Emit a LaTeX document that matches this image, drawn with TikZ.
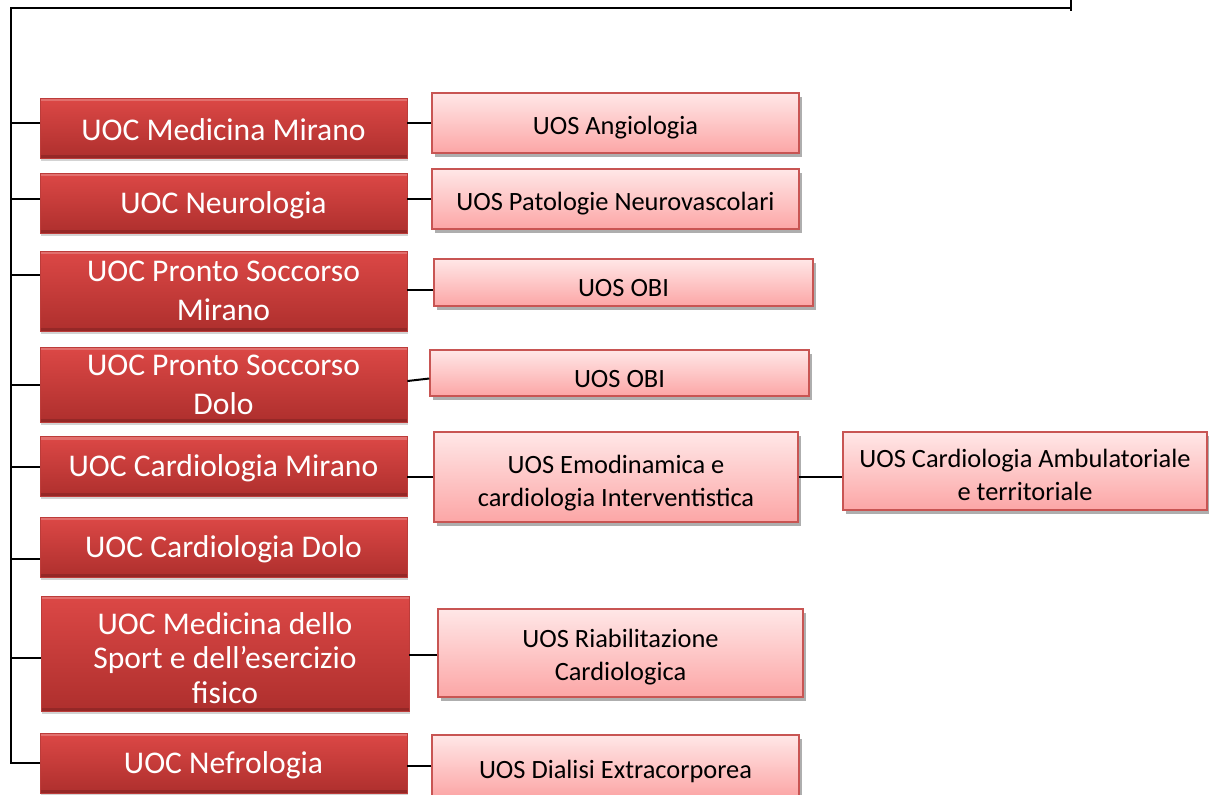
\documentclass[tikz,border=0pt]{standalone}
\usepackage{fontspec}
\setmainfont{Carlito}
\usepackage{tikz}
\usetikzlibrary{positioning,shadows,calc}
\definecolor{uocedge}{RGB}{188,60,58}
\definecolor{uoctop}{RGB}{220,72,70}
\definecolor{uocbot}{RGB}{174,47,45}
\definecolor{uosedge}{RGB}{200,85,83}
\definecolor{uostop}{RGB}{255,231,231}
\definecolor{uosbot}{RGB}{252,166,166}
% pushes the text of a box a little down
\newcommand{\lowr}[1]{\rule{0pt}{#1}}
\tikzset{
  orgbox/.style={
    inner sep=0pt, align=center,
    minimum width=183.5pt, minimum height=30pt
  },
  uoc/.style={
    orgbox, draw=uocedge, line width=0.4pt,
    top color=uoctop, bottom color=uocbot, text=white,
    font=\fontsize{15.8}{19.5}\selectfont,
    path picture={
      \draw[white, opacity=0.22, line width=1.6pt]
        ([yshift=-0.8pt]path picture bounding box.north west) --
        ([yshift=-0.8pt]path picture bounding box.north east);
      \draw[black, opacity=0.15, line width=1.6pt]
        ([yshift=0.8pt]path picture bounding box.south west) --
        ([yshift=0.8pt]path picture bounding box.south east);
    },
    drop shadow={shadow xshift=0.6pt, shadow yshift=-1.4pt, opacity=0.35}
  },
  uos/.style={
    orgbox, draw=uosedge, line width=0.7pt,
    top color=uostop, bottom color=uosbot, text=black,
    font=\fontsize{13.2}{16.5}\selectfont,
    drop shadow={shadow xshift=1.5pt, shadow yshift=-2pt, opacity=0.45, fill=black!70}
  },
  link/.style={draw=black, line width=1pt}
}

\begin{document}
\begin{tikzpicture}[x=0.5pt, y=-0.5pt]
  \useasboundingbox (0,0) rectangle (1209,794);
  % UOC column
  \node[uoc] (mm)  at (223.5,128)   {\lowr{13pt}UOC Medicina Mirano};
  \node[uoc] (neu) at (223.5,203)   {\lowr{13pt}UOC Neurologia};
  \node[uoc, minimum height=40pt] (psm) at (223.5,291) {UOC Pronto Soccorso\\Mirano};
  \node[uoc, minimum height=37.5pt] (psd) at (223.5,384.5) {UOC Pronto Soccorso\\Dolo};
  \node[uoc] (cm)  at (223.5,466.5) {\lowr{13pt}UOC Cardiologia Mirano};
  \node[uoc] (cd)  at (223.5,547)   {\lowr{13pt}UOC Cardiologia Dolo};
  \node[uoc, minimum width=184pt, minimum height=57.5pt, font=\fontsize{15.8}{17.2}\selectfont]
    (sp) at (225,653.5) {\lowr{15.5pt}UOC Medicina dello\\Sport e dell’esercizio\\fisico};
  \node[uoc] (nef) at (223.5,763)   {\lowr{13pt}UOC Nefrologia};
  % UOS column
  \node[uos] (ang)  at (615.5,123) {\lowr{14.2pt}UOS Angiologia};
  \node[uos] (pat)  at (615.5,199) {\lowr{14.2pt}UOS Patologie Neurovascolari};
  \node[uos, minimum width=189.5pt, minimum height=23.5pt] (obi1) at (623.5,282.5) {\lowr{14.2pt}UOS OBI};
  \node[uos, minimum width=189.5pt, minimum height=23pt] (obi2) at (619.5,373) {\lowr{14.2pt}UOS OBI};
  \node[uos, minimum width=182pt, minimum height=45pt] (emo) at (616,477)
    {\lowr{15pt}UOS Emodinamica e\\cardiologia Interventistica};
  \node[uos, minimum width=182pt, minimum height=39pt] (amb) at (1025,471)
    {\lowr{13.5pt}UOS Cardiologia Ambulatoriale\\e territoriale};
  \node[uos, minimum width=182.5pt, minimum height=44pt] (riab) at (620.5,653)
    {\lowr{12.8pt}UOS Riabilitazione\\Cardiologica};
  \node[uos, minimum height=31pt] (dia) at (615.5,766) {\lowr{14.2pt}UOS Dialisi Extracorporea};
  % spine
  \coordinate (corner) at (11,8);
  \coordinate (tick) at (1071,0);
  \draw[link] (tick) -- ++(0,11);
  \draw[link] (corner -| tick) -- (corner) -- (corner |- nef.west) -- (nef.west);
  \foreach \n/\dy in {mm/2.5, neu/2, psm/8, psd/0, cm/0, cd/-6, sp/-2}
    \draw[link] ([yshift=\dy pt]\n.west) coordinate (b) -- (b -| corner);
  % UOC to UOS
  \foreach \a/\b/\dy in {mm/ang/0, neu/pat/0, psm/obi1/-3.75, cm/emo/0, sp/riab/-1, nef/dia/0}
    \draw[link] ([yshift=\dy pt]\b.west) coordinate (c) -- (c -| \a.east);
  \draw[link] ([yshift=1.75pt]psd.east) -- ([yshift=-2.75pt]obi2.west);
  \draw[link] (emo.east) -- (emo.east -| amb.west);
\end{tikzpicture}
\end{document}
